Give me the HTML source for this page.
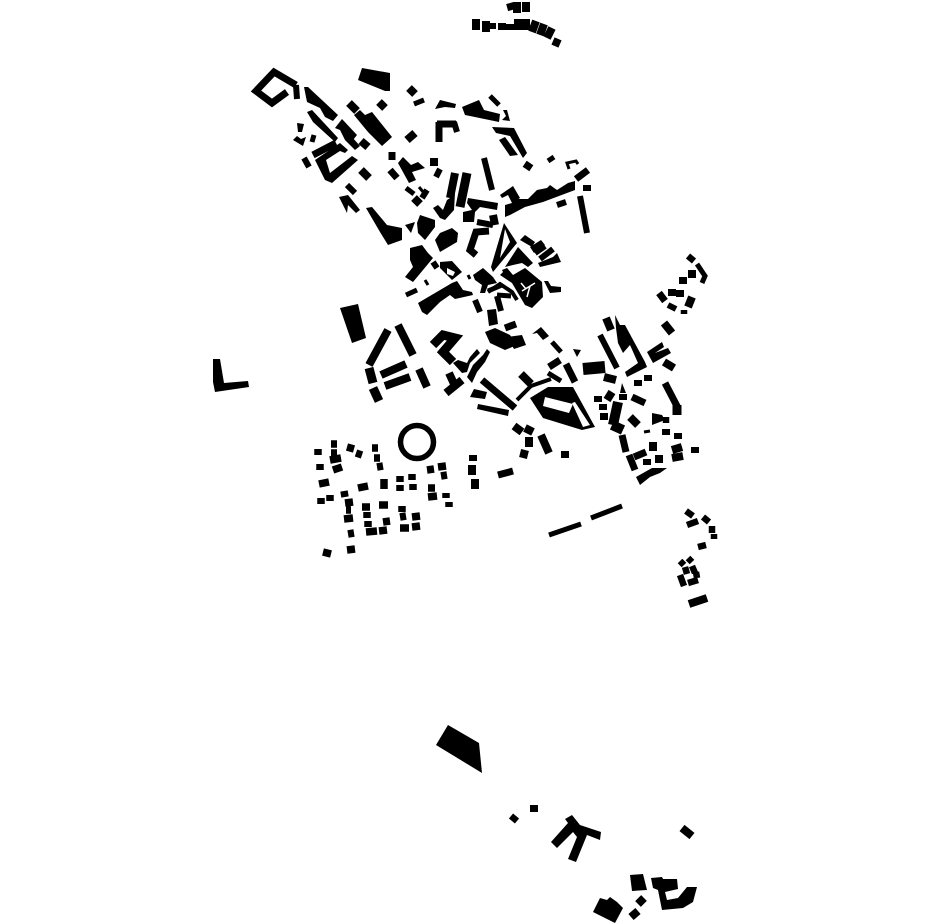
<!DOCTYPE html>
<html><head><meta charset="utf-8"><style>html,body{margin:0;padding:0;background:#fff}svg{display:block}</style></head>
<body>
<svg width="930" height="924" viewBox="0 0 930 924" xmlns="http://www.w3.org/2000/svg">
<rect width="930" height="924" fill="#fff"/>
<g fill="#000" fill-rule="evenodd">
<polygon points="362,68 390,73 390,91 385,91 358,80"/>
<polygon points="304,87 308,87 338,115 333,121 325,117 320,108 307,102"/>
<polygon points="307,112 312,110 338,138 335,142 313,122"/>
<polygon points="335,128 342,119 357,135 353,140 345,140 340,130"/>
<polygon points="345,140 352,137 360,146 355,150"/>
<polygon points="354,115 360,110 365,115 372,112 392,137 382,146 368,132"/>
<polygon points="315,160 340,143 348,150 345,153 340,151 326,160 330,173 352,156 358,160 332,183 325,180"/>
<polygon points="297,123 304,124 302,132 298,132"/>
<polygon points="435,109 440,100 456,104 455,108 445,107"/>
<polygon points="462,107 479,100 484,110 500,114 499,122 470,116 465,115"/>
<polygon points="503,110 507,110 510,121 502,120 506,116"/>
<polygon points="492,127 514,128 527,153 523,158 510,136 496,133"/>
<polygon points="499,140 505,137 518,155 510,156"/>
<polygon points="505,205 512,203 513,199 528,199 537,190 547,188 550,185 557,190 568,183 575,181 575,190 543,202 525,207 510,215 505,217"/>
<polygon points="500,195 513,186 520,198 512,203 508,195 502,198"/>
<polygon points="520,240 525,235 535,242 532,247"/>
<polygon points="530,247 541,240 545,245 534,253"/>
<polygon points="557,253 561,262 540,267 538,263 553,257"/>
<path d="M504,223 L517,243 L493,272 L491,267 Z M505,229 L510,242 L500,258 Z"/>
<polygon points="518,247 533,263 528,267 522,263 513,265 505,267"/>
<polygon points="500,275 507,268 513,275 525,268 542,282 543,297 532,308 525,305 512,283"/>
<polygon points="502,270 507,268 510,272 505,276"/>
<polygon points="544,281 548,281 551,286 561,287 561,292 550,293"/>
<polygon points="435,240 440,233 452,228 458,233 457,242 440,252"/>
<path d="M440,262 L452,261 L462,272 L452,280 L440,268 Z M447,268 L455,272 L453,276 L447,274 Z"/>
<polygon points="410,248 422,245 428,253 433,258 413,282 405,277 413,267 410,260"/>
<polygon points="418,303 452,283 457,281 463,290 472,292 473,295 455,299 450,295 440,302 427,315 422,312"/>
<polygon points="473,275 483,268 493,277 497,283 488,285 485,293 480,293 482,285 475,280"/>
<polygon points="420,215 435,220 435,227 425,240 418,233 417,223"/>
<polygon points="405,225 415,222 411,233"/>
<polygon points="433,208 438,205 443,210 447,200 450,198 455,193 454,210 445,220 440,218"/>
<polygon points="468,198 498,203 497,210 480,207 475,212 474,222 463,222 463,212 472,210 467,203"/>
<polygon points="340,308 358,304 366,338 352,343"/>
<polygon points="453,363 458,360 467,363 470,357 477,349 480,353 470,363 467,372 462,373"/>
<polygon points="467,377 473,365 483,355 487,349 490,352 485,362 477,372 472,383"/>
<polygon points="474,389 487,392 485,399 470,397"/>
<polygon points="478,404 509,410 508,416 477,409"/>
<polygon points="485,332 495,328 510,335 517,345 505,350 490,343"/>
<polygon points="487,310 496,309 498,324 489,326"/>
<polygon points="507,337 522,335 526,345 514,349"/>
<polygon points="532,334 541,327 549,336 543,340 537,333"/>
<polygon points="573,349 581,350 577,357"/>
<path d="M530,398 L548,387 L573,387 L595,427 L582,430 L543,418 Z M545,397 L573,404 L569,413 L543,406 Z M575,402 L590,425 L583,427 L572,403 Z"/>
<polygon points="213,359 220,359 224,383 248,381 249,387 215,392 213,382"/>
<polygon points="448,725 479,743 482,773 436,745"/>
<polygon points="565,819 572,815 580,825 601,832 600,840 587,835 576,862 568,859 577,837 573,832 557,848 551,842 568,823"/>
<polygon points="630,875 643,874 647,890 632,891"/>
<polygon points="651,878 662,877 663,879 677,879 678,889 665,892 667,900 678,898 687,887 697,887 693,902 683,908 662,910 658,890 653,888"/>
<polygon points="593,912 600,898 607,900 610,897 617,902 623,908 615,923"/>
<polygon points="339,197 348,195 360,210 356,213 348,205 347,213"/>
<polygon points="366,208 372,207 387,225 402,228 402,240 388,245 380,232"/>
<polygon points="398,163 403,157 411,165 418,162 425,168 412,172 416,180 409,183"/>
<polygon points="293,140 297,136 301,139 306,137 303,146"/>
<polygon points="615,315 620,325 625,325 645,362 647,367 627,377 625,372 638,363 630,345 623,353 618,343 616,328"/>
<polygon points="647,352 662,342 664,347 655,353 668,348 671,353 653,363"/>
<polygon points="652,413 662,415 665,420 652,425"/>
<polygon points="622,383 626,393 620,393"/>
<polygon points="636,477 652,468 662,468 667,468 660,473 650,477 640,485"/>
</g>
<g fill="none" stroke="#fff" stroke-width="1.5">
<path d="M522,291 L535,283 M530,286 L527,297 M521,283 L526,289"/>
</g>
<g fill="none" stroke="#000">
<path stroke-width="7" d="M296,85 L274,72 L256,91 L272,103 L287,92"/>
<path stroke-width="6" d="M296,85 L297,99"/>
<path stroke-width="5" d="M414,104 L424,100 M490,96 L499,105 M548,161 L554,157 M312,142 L314,135 M406,188 L414,194 M406,295 L417,290 M548,373 L561,381 M552,342 L561,352 M697,264 L705,276 L702,283 M549,535 L581,524 M591,518 L622,506"/>
<path stroke-width="3" d="M569,169 L567,163 L576,161 L578,164 M468,275 L470,279 M425,280 L428,285 M419,187 L424,193"/>
<path stroke-width="7" d="M576,179 L588,170 M470,199 L470,199 M439,142 L439,122 M437,124 L456,124 M392,152 L392,160 M390,170 L397,178 M482,380 L515,408 M505,328 L516,324 M566,364 L575,382 M549,367 L560,360 M659,293 L665,301 M665,383 L678,408 M622,435 L626,452 M634,457 L646,452 M632,397 L645,403 M498,475 L513,471 M313,155 L336,143 M629,455 L635,470 M489,231 L476,232 L470,250 L476,255"/>
<path stroke-width="6" d="M454,122 L457,132 M484,158 L492,190 M557,205 L566,202 M580,196 L587,233 M304,158 L309,167 M347,185 L355,193 M440,169 L436,177 M427,190 L422,198 M433,262 L437,268 M475,300 L480,312 M501,311 L497,296 M477,222 L493,225 M600,335 L617,368 M668,305 L676,309 M535,253 L545,246 M540,259 L553,249"/>
<path stroke-width="8" d="M455,173 L450,198 M407,140 L415,133 M434,158 L434,166 M388,330 L369,365 M398,325 L413,355 M381,375 L406,364 M385,386 L410,377 M419,369 L427,387 M449,373 L455,386 M541,435 L549,453 M446,393 L462,380 M692,297 L688,307 M630,417 L638,425 M689,604 L707,598 M493,215 L495,225 M606,318 L611,330 M679,459 L679,459"/>
<path stroke-width="9" d="M369,368 L373,383 M373,388 L379,401 M467,173 L460,207 M433,345 L443,335 L455,338 L443,352 L453,362 M677,405 L677,415"/>
<path stroke-width="10" d="M618,402 L613,425 M612,425 L623,430"/>
<path stroke-width="12" d="M583,369 L605,367"/>
<path stroke-width="4" d="M488,292 L500,284 L512,292 L517,300 M517,400 L531,386 L551,379"/>
<path stroke-width="5" d="M488,291 L502,285 M497,295 L511,296"/>
<!-- small blocks -->
<path stroke-width="8" d="M349,103 L357,111 M379,102 L385,108 M409,88 L415,94 M361,141 L368,147 M361,170 L369,178 M414,198 L420,204 M521,374 L531,384 M514,426 L522,432 M525,428 L533,432 M529,437 L529,447 M525,450 L523,458 M565,451 L565,458 M530,163 L526,169 M587,185 L587,191 M664,323 L672,333 M664,362 L674,368 M638,380 L638,386 M648,375 L648,381 M604,377 L616,380 M598,396 L598,402 M603,404 L603,410 M604,413 L604,420 M607,400 L612,392 M623,394 L623,400 M647,459 L647,465 M659,455 L659,463 M666,429 L666,435 M678,433 L678,439 M695,447 L695,453 M653,442 L653,451 M682,828 L692,836 M631,917 L638,911 M638,904 L644,898 M534,805 L534,812 M473,455 L473,461 M472,465 L472,475 M475,479 L475,489 M510,3 L512,10 M517,2 L517,13 M526,2 L526,12 M476,19 L476,30 M486,21 L486,32 M492,23 L492,29 M502,23 L502,30 M510,24 L510,30 M518,19 L518,30 M526,19 L526,30 M536,21 L532,32 M544,24 L540,35 M552,28 L547,38 M553,41 L560,44 M672,450 L682,447 M672,458 L683,456 M683,277 L683,284 M688,274 L696,274 M672,289 L672,296 M680,290 L680,297"/>
<path stroke-width="7.5" d="M318,449 L318,455 M331,444 L337,444 M331,453 L337,453 M330,460 L341,458 M333,470 L342,467 M320,464 L320,470 M347,447 L354,449 M356,453 L362,455 M372,448 L378,448 M374,458 L380,458 M377,467 L383,466 M319,484 L329,482 M321,498 L321,504 M330,495 L330,501 M344,491 L345,497 M345,503 L353,502 M346,510 L351,510 M344,519 L353,518 M348,534 L354,533 M347,550 L355,549 M323,552 L331,554 M358,488 L368,486 M384,479 L384,489 M400,476 L400,482 M400,485 L400,491 M412,474 L412,480 M413,484 L413,490 M427,470 L434,469 M438,467 L446,466 M441,476 L447,475 M428,488 L435,488 M428,497 L437,496 M446,493 L446,498 M449,502 L449,507 M362,507 L370,507 M367,512 L367,518 M368,521 L368,527 M366,532 L377,531 M379,531 L387,530 M379,505 L388,505 M383,522 L390,521 M402,506 L402,512 M400,517 L406,516 M412,517 L420,516 M400,528 L409,528 M412,527 L420,526"/>
<path stroke-width="6.5" d="M686,511 L693,516 M687,525 L698,521 M703,517 L709,522 M712,526 L712,533 M714,534 L714,539 M698,547 L706,545 M680,561 L684,565 M688,558 L692,562 M685,567 L687,574 M692,566 L695,573 M680,575 L684,586 M688,583 L698,580 M696,572 L697,578 M511,816 L517,821 M688,256 L694,261 M684,310 L684,314 M666,417 L666,423"/>
<path stroke-width="3" d="M644,432 L650,431"/>
</g>
<circle cx="417" cy="442" r="16.5" fill="none" stroke="#000" stroke-width="5.5"/>
</svg>
</body></html>
